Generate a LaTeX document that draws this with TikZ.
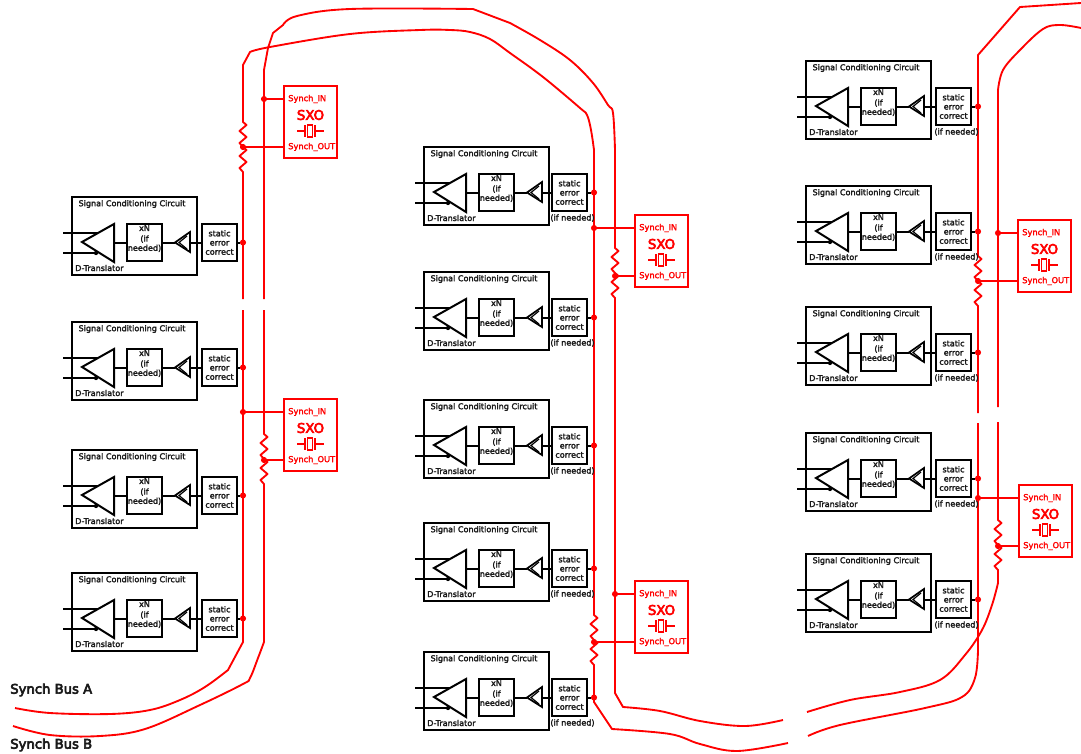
\documentclass[tikz,border=0pt]{standalone}
\usepackage{fontspec}
\setmainfont{DejaVu Sans}
\newfontfamily\semi[FakeBold=2.4]{DejaVu Sans}
\newfontfamily\semib[FakeBold=4.5]{DejaVu Sans}
\definecolor{sred}{RGB}{255,0,0}
\tikzset{
 px/.style={x=0.75pt,y=-0.75pt},
 bus/.style={draw=sred,line width=1.4pt,line join=round},
 wire/.style={draw=black,line width=1.5pt},
 rwire/.style={draw=sred,line width=1.5pt},
 boxb/.style={draw=black,line width=1.5pt,inner sep=0pt,outer sep=0pt,anchor=north west},
 boxr/.style={draw=sred,line width=1.5pt,inner sep=0pt,outer sep=0pt,anchor=north west,minimum width=39.75pt,minimum height=54pt},
 dot/.style={circle,fill=sred,inner sep=0pt,outer sep=0pt,minimum size=4.6pt},
 txt/.style={inner sep=0pt,font=\semi\fontsize{6.05}{6.9}\selectfont,text=black!90,align=center},
 rtxt/.style={inner sep=0pt,font=\semi\fontsize{6.2}{6.9}\selectfont,text=sred,anchor=west},
 lab/.style={inner sep=0pt,anchor=west,font=\semib\fontsize{9.9}{11}\selectfont,text=black!90},
}
\newcommand\zzd{ -- ++(3.5,3) -- ++(-7,6) -- ++(7,6) -- ++(-7,6) -- ++(3.5,4) }
\newcommand\zzu{ -- ++(-3.5,-4) -- ++(7,-6) -- ++(-7,-6) -- ++(7,-6) -- ++(-3.5,-3) }
% name, x, y, static rel x, bus x, note
\newcommand\circuit[6]{%
\begin{scope}[shift={(#2,#3)}]
 \node[boxb,minimum width=93.75pt,minimum height=58.5pt] (#1o) at (0,0) {};
 \node[txt] (#1t) at (60,7) {Signal Conditioning Circuit};
 \node[txt,anchor=west] (#1d) at (3,71) {D-Translator};
 \node[boxb,minimum width=26.25pt,minimum height=27.75pt] (#1x) at (55,27) {};
 \node[txt] (#1xt) at (72.5,41.5) {xN\\[1.1pt](if\\needed)};
 \node[boxb,minimum width=26.25pt,minimum height=27.75pt] (#1s) at (#4,27) {};
 \node[txt] (#1st) at ($(#4,27)+(17.5,18.5)$) {static\\error\\correct};
 \draw[wire,line join=miter] (10,45) -- (42,27) -- (42,65) -- cycle;
 \draw[wire] (-9,36) -- (26,36);
 \draw[wire] (-9,56) -- (24,56);
 \fill (24,56) circle (1.6pt);
 \draw[wire] (42,45.5) -- (#1x);
 \draw[wire] (90,45.5) -- (103,45.5);
 \draw[wire,line join=miter,line width=1.3pt] (103,45.5) -- (118,35) -- (118,55) -- cycle;
 \draw[wire,line width=.9pt] (115,39) -- (107,45.5) -- (115,52);
 \draw[wire] (118,45.5) -- (#1s);
 \node[dot] (#1b) at (#5-#2,45.5) {};
 \draw[wire] (#1s) -- (#1b);
 \node[txt] (#1n) at ($(#4,71)+(20.5,0)$) {#6};
\end{scope}}
% name, x, y, IN bus x, OUT bus x
\newcommand\sxo[5]{%
\begin{scope}[shift={(#2,#3)}]
 \node[boxr] (#1) at (0,0) {};
 \node[rtxt] (#1i) at (4,13) {Synch\_IN};
 \node[rtxt] (#1u) at (4,61) {Synch\_OUT};
 \node[inner sep=0pt,text=sred,font=\semib\fontsize{10}{11}\selectfont] (#1l) at (26.5,29) {SXO};
 \draw[rwire] (13,45) -- (21,45) (21,39) -- (21,51) (31,39) -- (31,51) (31,45) -- (40,45);
 \draw[rwire,line width=.9pt] (23.5,39) rectangle (28.5,51);
 \node[dot] (#1a) at (#4-#2,13) {};
 \node[dot] (#1c) at (#5-#2,61) {};
 \draw[rwire] (#1a) -- (#1a -| #1.west);
 \draw[rwire] (#1c) -- (#1c -| #1.west);
\end{scope}}
\usetikzlibrary{calc}
\begin{document}
\begin{tikzpicture}[px]
\useasboundingbox (0,0) rectangle (1081,753);
% bus through 243 / 594
\draw[bus] plot[smooth,tension=.6] coordinates {(15,708) (50,713) (110,714) (150,710) (180,700) (205,687) (228,670)} -- (243,642) -- (243,310);
\draw[bus] (243,299) -- (243,172) \zzu \zzu -- (243,65) -- (250,52) -- plot[smooth,tension=.6] coordinates {(250,52) (270,47) (350,34) (420,30) (450,30) (470,32) (490,39) (510,53) (543,77) (580,108) (587,115) (591,130) (594,150)} -- (594,615) \zzd \zzd -- (594,702) -- (612,729) -- plot[smooth,tension=.6] coordinates {(612,729) (670,734) (700,744) (737,751) (788,743)};
% bus through 264 / 615
\draw[bus] plot[smooth,tension=.6] coordinates {(13,726) (50,735) (100,736) (145,729) (200,705) (243,684) (250,678) (258,658) (264,642)} -- (264,484) \zzu \zzu -- (264,310);
\draw[bus] (264,299) -- (264,70) -- (268,48) -- (273,33) -- (283,25) -- plot[smooth,tension=.6] coordinates {(283,25) (297,16) (350,9) (473,9)} -- (510,23) -- plot[smooth,tension=.6] coordinates {(510,23) (540,40) (570,60) (593,83) (608,105) (613,113) (615,150)} -- (615,248) \zzd \zzd -- (615,693) -- (623,707) -- plot[smooth,tension=.6] coordinates {(623,707) (660,711) (700,721) (745,726) (783,720)};
% right hand buses
\draw[bus] plot[smooth,tension=.6] coordinates {(807,712) (850,700) (900,692) (940,680) (965,655) (982,630) (992,605) (998,583)} -- (998,570) \zzu \zzu -- (998,422);
\draw[bus] (998,407) -- (998,90) -- plot[smooth,tension=.6] coordinates {(998,90) (1003,70) (1020,50) (1043,29) (1060,25) (1081,28)};
\draw[bus] plot[smooth,tension=.6] coordinates {(808,736) (840,725) (925,708) (962,697) (975,678) (978,650)} -- (978,423);
\draw[bus] (978,413) -- (978,306) \zzu \zzu -- (978,55) -- (1020,7) -- (1081,3);
% circuits, left
\circuit{la}{72}{197}{130}{243}{}
\circuit{lb}{72}{322}{130}{243}{}
\circuit{lc}{72}{450}{130}{243}{}
\circuit{ld}{72}{573}{130}{243}{}
% middle
\circuit{ma}{424}{147}{128}{594}{(if needed)}
\circuit{mb}{424}{272}{128}{594}{(if needed)}
\circuit{mc}{424}{400}{128}{594}{(if needed)}
\circuit{md}{424}{523}{128}{594}{(if needed)}
\circuit{me}{424}{652}{128}{594}{(if needed)}
% right
\circuit{ra}{806}{61}{130}{978}{(if needed)}
\circuit{rb}{806}{186}{130}{978}{(if needed)}
\circuit{rc}{806}{307}{130}{978}{(if needed)}
\circuit{rd}{806}{433}{130}{978}{(if needed)}
\circuit{re}{806}{554}{130}{978}{(if needed)}
% oscillators
\sxo{sa}{284}{86}{264}{243}
\sxo{sb}{284}{399}{243}{264}
\sxo{sc}{635}{215}{594}{615}
\sxo{sd}{635}{581}{615}{594}
\sxo{se}{1018}{220}{998}{978}
\sxo{sf}{1019}{485}{978}{998}
% labels
\node[lab] (ba) at (10,690) {Synch Bus A};
\node[lab] (bb) at (10,745) {Synch Bus B};
\end{tikzpicture}
\end{document}
